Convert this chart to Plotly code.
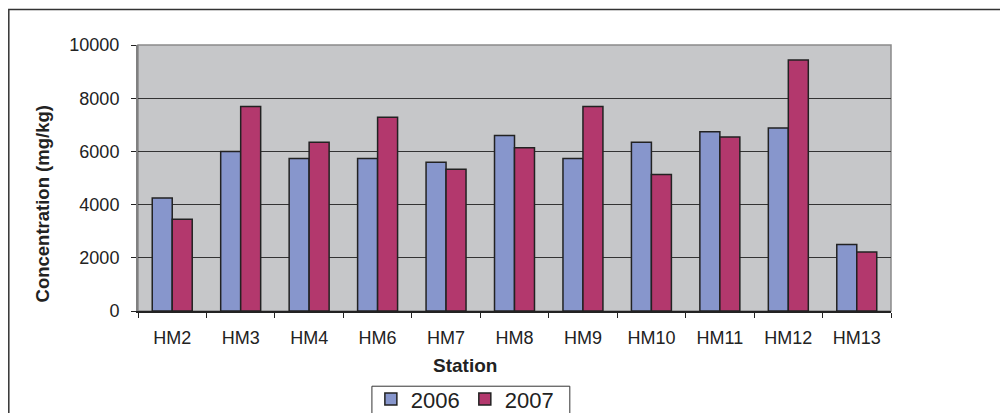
import plotly.graph_objects as go

stations = ["HM2", "HM3", "HM4", "HM6", "HM7", "HM8", "HM9", "HM10", "HM11", "HM12", "HM13"]
values_2006 = [4250, 6000, 5730, 5730, 5590, 6600, 5730, 6340, 6740, 6880, 2500]
values_2007 = [3450, 7690, 6340, 7280, 5330, 6140, 7690, 5130, 6540, 9440, 2220]
y_ticks = [0, 2000, 4000, 6000, 8000, 10000]
y_tick_text = ["0", "2000", "4000", "6000", "8000", "10000"]

OFF = 8  # page body margin in the browser
W, H = 1008 - OFF, 413 - OFF
L, R, T, B = 138 - OFF, 891.3 - OFF, 44.5 - OFF, 311.5 - OFF
pw, ph = R - L, B - T

def px(x):
    return (x - OFF - L) / pw

def py(y):
    return (B - (y - OFF)) / ph

FONT = "Liberation Sans, Arial, sans-serif"
fig = go.Figure()
fig.add_trace(go.Bar(x=stations, y=values_2006, name="2006",
                     marker=dict(color="#8796CC", line=dict(color="#222222", width=1.5))))
fig.add_trace(go.Bar(x=stations, y=values_2007, name="2007",
                     marker=dict(color="#B3386D", line=dict(color="#222222", width=1.5))))

fig.update_layout(
    width=W, height=H,
    margin=dict(l=L, r=W - R, t=T, b=H - B, autoexpand=False),
    paper_bgcolor="white",
    plot_bgcolor="#C6C7C9",
    barmode="group", bargap=0.416, bargroupgap=0,
    font=dict(family=FONT, size=18, color="#222222"),
    showlegend=True,
    legend=dict(orientation="h", x=px(465), xanchor="center", y=py(379), yanchor="top",
                borderwidth=0, bgcolor="rgba(0,0,0,0)",
                font=dict(family=FONT, size=22, color="#222222"),
                itemwidth=30, traceorder="normal"),
    xaxis=dict(type="category", showgrid=False, showline=True, linecolor="#222222", linewidth=1.5,
               ticks="outside", tickson="boundaries", ticklen=5, tickcolor="#222222",
               tickfont=dict(size=18), ticklabelstandoff=10, fixedrange=True),
    yaxis=dict(range=[0, 10000], tickvals=y_ticks, ticktext=y_tick_text,
               showgrid=True, gridcolor="#333333", gridwidth=1,
               zeroline=False, showline=True, linecolor="#808080", linewidth=2,
               ticks="outside", ticklen=5, tickcolor="#222222",
               tickfont=dict(size=18), ticklabelstandoff=8, fixedrange=True),
    shapes=[
        dict(type="rect", xref="paper", yref="paper", x0=0, x1=1, y0=0, y1=1,
             line=dict(color="#8a8a8a", width=1.5), layer="below"),
        dict(type="rect", xref="paper", yref="paper", x0=px(8.75), x1=px(1030), y0=py(440), y1=py(8.75),
             line=dict(color="#333333", width=1.5), layer="above"),
        dict(type="rect", xref="paper", yref="paper", x0=px(372), x1=px(570), y0=py(440), y1=py(387),
             line=dict(color="#333333", width=1), layer="above"),
    ],
    annotations=[
        dict(text="<b>Concentration (mg/kg)</b>", xref="paper", yref="paper",
             x=px(42.5), y=py(204), textangle=-90, showarrow=False,
             font=dict(size=18.5, family=FONT, color="#222222"), xanchor="center", yanchor="middle"),
        dict(text="<b>Station</b>", xref="paper", yref="paper",
             x=px(465.5), y=py(366.7), showarrow=False,
             font=dict(size=19, family=FONT, color="#222222"), xanchor="center", yanchor="middle"),
    ],
)

fig.write_html("out.html")
